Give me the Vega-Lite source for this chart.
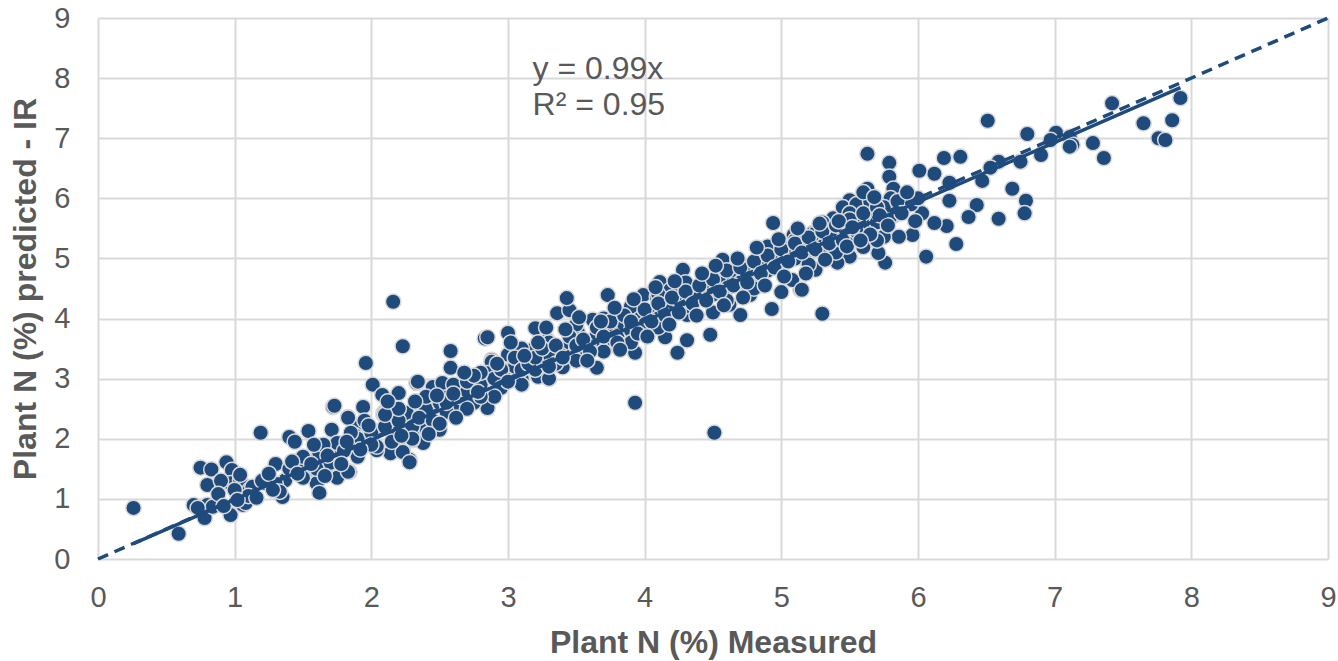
{
  "$schema": "https://vega.github.io/schema/vega-lite/v6.json",
  "width": 1230,
  "height": 541,
  "autosize": {"type": "none"},
  "padding": {"left": 98, "top": 18, "right": 10, "bottom": 102},
  "background": "white",
  "config": {
    "view": {"stroke": null},
    "font": "Liberation Sans",
    "axis": {
      "grid": true, "gridColor": "#d9d9d9", "gridWidth": 2,
      "domain": false, "ticks": false, "labelFlush": false, "labelOverlap": false,
      "labelColor": "#595959", "labelFont": "Liberation Sans", "labelFontSize": 29,
      "titleColor": "#595959", "titleFont": "Liberation Sans", "titleFontSize": 32, "titleFontWeight": "bold"
    }
  },
  "datasets": {
    "pts": [
      {"x":0.26,"y":0.85},{"x":0.59,"y":0.42},{"x":0.70,"y":0.90},{"x":0.80,"y":0.90},{"x":0.78,"y":0.68},{"x":0.84,"y":0.87},
      {"x":0.75,"y":1.52},{"x":0.83,"y":1.49},{"x":0.94,"y":1.61},{"x":0.98,"y":1.48},{"x":0.80,"y":1.23},{"x":0.97,"y":0.73},
      {"x":1.06,"y":0.90},{"x":1.19,"y":2.10},{"x":0.97,"y":1.26},{"x":1.04,"y":1.31},{"x":1.11,"y":1.15},{"x":1.13,"y":1.20},
      {"x":1.30,"y":1.58},{"x":1.23,"y":1.26},{"x":1.35,"y":1.03},{"x":1.37,"y":1.31},{"x":1.40,"y":2.03},{"x":1.44,"y":1.95},
      {"x":1.54,"y":2.13},{"x":1.48,"y":1.65},{"x":1.61,"y":1.70},{"x":1.53,"y":1.48},{"x":1.60,"y":1.26},{"x":1.72,"y":2.53},
      {"x":1.75,"y":1.76},{"x":1.84,"y":1.45},{"x":1.75,"y":1.35},{"x":1.71,"y":2.15},{"x":1.83,"y":2.36},{"x":1.94,"y":2.53},
      {"x":2.09,"y":2.43},{"x":2.20,"y":2.76},{"x":2.28,"y":1.65},{"x":2.23,"y":1.81},{"x":2.14,"y":1.76},{"x":2.04,"y":1.81},
      {"x":1.99,"y":2.06},{"x":1.88,"y":2.20},{"x":2.41,"y":2.43},{"x":2.33,"y":2.93},{"x":2.45,"y":2.86},{"x":2.58,"y":2.76},
      {"x":2.65,"y":2.53},{"x":2.85,"y":2.51},{"x":2.50,"y":2.15},{"x":2.38,"y":1.93},{"x":2.30,"y":1.98},{"x":1.04,"y":1.40},
      {"x":1.08,"y":0.93},{"x":1.62,"y":1.10},{"x":1.83,"y":1.45},{"x":1.67,"y":1.53},{"x":1.62,"y":1.76},{"x":1.49,"y":1.65},
      {"x":1.75,"y":1.93},{"x":1.88,"y":2.06},{"x":2.04,"y":1.87},{"x":2.16,"y":2.15},{"x":2.23,"y":1.78},{"x":2.30,"y":2.11},
      {"x":2.40,"y":2.18},{"x":2.49,"y":2.26},{"x":2.28,"y":1.61},{"x":1.73,"y":2.55},{"x":1.83,"y":2.35},{"x":2.09,"y":2.40},
      {"x":2.26,"y":2.43},{"x":2.43,"y":2.43},{"x":2.01,"y":2.90},{"x":2.08,"y":2.73},{"x":2.34,"y":2.95},{"x":2.52,"y":2.93},
      {"x":2.63,"y":2.86},{"x":2.16,"y":4.28},{"x":2.23,"y":3.54},{"x":1.96,"y":3.26},{"x":2.58,"y":3.46},{"x":2.58,"y":3.18},
      {"x":2.83,"y":3.67},{"x":2.88,"y":3.31},{"x":2.85,"y":3.03},{"x":3.00,"y":3.76},{"x":2.85,"y":3.69},{"x":2.88,"y":3.28},
      {"x":2.85,"y":3.09},{"x":3.04,"y":2.98},{"x":3.04,"y":3.31},{"x":3.18,"y":3.48},{"x":3.22,"y":3.03},{"x":3.20,"y":3.84},
      {"x":3.29,"y":3.64},{"x":3.37,"y":3.39},{"x":3.40,"y":3.19},{"x":3.36,"y":4.09},{"x":3.45,"y":4.14},{"x":3.43,"y":4.34},
      {"x":3.51,"y":3.78},{"x":3.62,"y":3.98},{"x":3.76,"y":3.56},{"x":3.65,"y":3.18},{"x":3.73,"y":4.39},{"x":3.80,"y":3.93},
      {"x":3.87,"y":3.64},{"x":3.93,"y":2.60},{"x":3.93,"y":3.43},{"x":3.96,"y":4.11},{"x":3.99,"y":4.39},{"x":4.09,"y":4.36},
      {"x":4.11,"y":4.61},{"x":4.19,"y":4.48},{"x":4.32,"y":4.36},{"x":4.15,"y":3.69},{"x":4.24,"y":3.43},{"x":4.31,"y":3.64},
      {"x":4.31,"y":4.06},{"x":4.48,"y":3.73},{"x":4.28,"y":4.81},{"x":4.46,"y":4.73},{"x":4.57,"y":4.98},{"x":4.61,"y":4.69},
      {"x":4.70,"y":4.06},{"x":4.62,"y":4.23},{"x":4.77,"y":4.39},{"x":4.93,"y":4.16},{"x":5.00,"y":4.44},{"x":5.14,"y":4.48},
      {"x":5.08,"y":4.64},{"x":5.15,"y":5.01},{"x":4.92,"y":5.06},{"x":5.23,"y":5.42},{"x":5.09,"y":5.39},{"x":4.94,"y":5.59},
      {"x":4.51,"y":2.10},{"x":5.30,"y":4.08},
      {"x":6.51,"y":7.29},{"x":6.80,"y":7.07},{"x":7.01,"y":7.09},{"x":7.11,"y":7.02},{"x":7.28,"y":6.92},{"x":6.90,"y":6.72},
      {"x":6.75,"y":6.61},{"x":6.59,"y":6.61},{"x":6.53,"y":6.51},{"x":6.69,"y":6.16},{"x":6.79,"y":5.96},{"x":6.78,"y":5.75},
      {"x":6.59,"y":5.66},{"x":6.43,"y":5.89},{"x":6.37,"y":5.69},{"x":6.47,"y":6.29},{"x":6.31,"y":6.69},{"x":6.19,"y":6.67},
      {"x":6.12,"y":6.41},{"x":6.01,"y":6.46},{"x":6.23,"y":6.26},{"x":6.23,"y":5.96},{"x":6.28,"y":5.24},{"x":6.06,"y":5.03},
      {"x":6.21,"y":5.54},{"x":6.12,"y":5.59},{"x":6.03,"y":5.75},{"x":5.82,"y":5.71},{"x":5.79,"y":6.59},{"x":5.63,"y":6.74},
      {"x":5.79,"y":6.36},{"x":5.63,"y":6.16},{"x":5.82,"y":6.16},{"x":5.92,"y":6.01},{"x":5.96,"y":5.39},{"x":5.76,"y":4.93},
      {"x":5.71,"y":5.09},{"x":5.86,"y":5.36},{"x":5.75,"y":5.36},{"x":5.60,"y":5.19},{"x":5.50,"y":5.03},{"x":5.41,"y":4.93},
      {"x":5.25,"y":4.81},{"x":5.15,"y":4.48},{"x":5.57,"y":5.67},{"x":5.45,"y":5.77},{"x":5.38,"y":5.67},{"x":5.25,"y":5.42},
      {"x":5.17,"y":5.36},{"x":5.50,"y":5.97},{"x":5.63,"y":5.54},{"x":5.38,"y":5.19},{"x":5.17,"y":5.03},
      {"x":7.42,"y":7.58},{"x":7.65,"y":7.25},{"x":7.76,"y":7.00},{"x":7.81,"y":6.97},{"x":7.86,"y":7.30},{"x":7.92,"y":7.67},
      {"x":7.36,"y":6.67},{"x":7.13,"y":6.89},{"x":7.11,"y":6.86},{"x":6.97,"y":6.97},
      {"x":1.9,"y":2.0},{"x":2.0,"y":2.1},{"x":2.1,"y":2.2},{"x":2.2,"y":2.3},{"x":2.3,"y":2.2},{"x":2.4,"y":2.5},{"x":2.5,"y":2.6},
      {"x":2.6,"y":2.5},{"x":2.15,"y":1.95},{"x":2.35,"y":2.35},{"x":2.45,"y":2.3},{"x":2.55,"y":2.45},{"x":2.65,"y":2.7},{"x":2.7,"y":2.8},
      {"x":2.75,"y":2.6},{"x":2.8,"y":2.9},{"x":2.9,"y":3.0},{"x":2.95,"y":2.85},{"x":3.0,"y":3.1},{"x":3.05,"y":3.2},{"x":3.1,"y":3.0},
      {"x":3.15,"y":3.3},{"x":3.2,"y":3.15},{"x":3.25,"y":3.3},{"x":3.3,"y":3.4},{"x":3.35,"y":3.25},{"x":3.4,"y":3.45},{"x":3.45,"y":3.6},
      {"x":3.5,"y":3.5},{"x":3.55,"y":3.4},{"x":3.6,"y":3.6},{"x":3.65,"y":3.75},{"x":3.7,"y":3.55},{"x":3.75,"y":3.8},{"x":3.8,"y":3.7},
      {"x":3.85,"y":3.9},{"x":3.9,"y":3.8},{"x":3.95,"y":4.0},{"x":4.0,"y":3.9},{"x":4.05,"y":4.1},{"x":4.1,"y":4.0},{"x":4.15,"y":4.2},
      {"x":4.2,"y":4.15},{"x":4.25,"y":4.3},{"x":4.3,"y":4.2},{"x":4.35,"y":4.4},{"x":4.4,"y":4.35},{"x":4.45,"y":4.5},{"x":4.5,"y":4.4},
      {"x":4.55,"y":4.6},{"x":4.6,"y":4.5},{"x":4.65,"y":4.7},{"x":4.7,"y":4.6},{"x":4.75,"y":4.8},{"x":4.8,"y":4.7},{"x":4.85,"y":4.9},
      {"x":4.9,"y":4.8},{"x":4.95,"y":5.0},{"x":5.0,"y":4.9},{"x":5.05,"y":5.1},{"x":5.1,"y":5.0},{"x":5.15,"y":5.2},{"x":5.2,"y":5.1},
      {"x":5.25,"y":5.3},{"x":5.3,"y":5.2},{"x":5.35,"y":5.4},{"x":5.4,"y":5.35},{"x":5.45,"y":5.5},{"x":5.5,"y":5.4},{"x":5.55,"y":5.6},
      {"x":5.6,"y":5.5},{"x":5.65,"y":5.7},{"x":5.7,"y":5.6},{"x":5.75,"y":5.8},{"x":5.8,"y":5.7},{"x":5.85,"y":5.9},{"x":5.9,"y":5.85},
      {"x":5.95,"y":5.9},{"x":6.0,"y":6.0},
      {"x":3.3,"y":3.0},{"x":3.5,"y":3.3},{"x":3.7,"y":3.45},{"x":3.9,"y":3.6},{"x":4.1,"y":3.85},{"x":4.3,"y":4.5},{"x":4.5,"y":4.1},
      {"x":4.7,"y":4.9},{"x":4.9,"y":5.2},{"x":5.1,"y":5.3},{"x":5.3,"y":5.6},{"x":5.5,"y":5.8},{"x":5.7,"y":5.3},{"x":5.9,"y":6.0},
      {"x":4.6,"y":4.3},{"x":4.8,"y":4.5},{"x":5.0,"y":5.2},{"x":5.2,"y":4.9},{"x":5.4,"y":5.1},{"x":5.6,"y":5.8},{"x":5.8,"y":6.0},
      {"x":3.1,"y":3.5},{"x":3.3,"y":3.6},{"x":3.5,"y":3.9},{"x":3.7,"y":4.0},{"x":3.9,"y":4.2},{"x":4.1,"y":4.4},{"x":4.3,"y":4.6},
      {"x":2.2,"y":2.5},{"x":2.4,"y":2.7},{"x":2.6,"y":2.9},{"x":2.8,"y":3.1},{"x":3.0,"y":3.4},{"x":2.3,"y":2.0},{"x":2.5,"y":2.25},
      {"x":2.7,"y":2.5},{"x":2.9,"y":2.7},{"x":3.1,"y":2.9},{"x":1.9,"y":1.7},{"x":2.0,"y":1.9},{"x":2.1,"y":2.4},{"x":1.7,"y":1.6},
      {"x":1.6,"y":1.5},{"x":1.5,"y":1.7},{"x":1.4,"y":1.5},{"x":1.3,"y":1.25},{"x":1.2,"y":1.3},{"x":1.1,"y":1.05},{"x":1.0,"y":1.15},
      {"x":0.9,"y":1.3},{"x":1.5,"y":1.35},{"x":1.65,"y":1.9},{"x":1.8,"y":1.8},{"x":1.85,"y":2.1},{"x":1.95,"y":2.3},
      {"x":5.45,"y":5.85},{"x":5.55,"y":5.9},{"x":5.65,"y":5.95},{"x":5.75,"y":5.85},{"x":5.85,"y":5.95},{"x":5.6,"y":6.1},{"x":5.5,"y":5.75},
      {"x":2.55,"y":2.6},{"x":2.6,"y":2.75},{"x":2.7,"y":2.95},{"x":2.75,"y":3.05},{"x":2.8,"y":2.7},{"x":2.95,"y":3.15},{"x":3.0,"y":2.95},
      {"x":3.05,"y":3.35},{"x":3.1,"y":3.15},{"x":3.15,"y":3.25},{"x":3.2,"y":3.35},{"x":3.25,"y":3.5},{"x":3.3,"y":3.2},{"x":3.35,"y":3.55},
      {"x":3.4,"y":3.35},{"x":3.45,"y":3.7},{"x":3.5,"y":3.55},{"x":3.55,"y":3.65},{"x":3.6,"y":3.45},{"x":3.65,"y":3.85},{"x":3.7,"y":3.7},
      {"x":3.75,"y":3.95},{"x":3.8,"y":3.6},{"x":3.85,"y":4.05},{"x":3.9,"y":3.95},{"x":3.95,"y":3.75},{"x":4.0,"y":4.15},{"x":4.05,"y":3.95},
      {"x":4.1,"y":4.25},{"x":4.15,"y":4.05},{"x":4.2,"y":4.35},{"x":4.25,"y":4.1},{"x":4.3,"y":4.45},{"x":4.35,"y":4.25},{"x":4.4,"y":4.55},
      {"x":4.45,"y":4.3},{"x":4.5,"y":4.65},{"x":4.55,"y":4.45},{"x":4.6,"y":4.8},{"x":4.65,"y":4.55},{"x":4.7,"y":4.85},{"x":4.75,"y":4.6},
      {"x":4.8,"y":4.95},{"x":4.85,"y":4.75},{"x":4.9,"y":5.05},{"x":4.95,"y":4.85},{"x":5.0,"y":5.15},{"x":5.05,"y":4.95},{"x":5.1,"y":5.25},
      {"x":5.15,"y":5.1},{"x":5.2,"y":5.35},{"x":5.25,"y":5.15},{"x":5.3,"y":5.45},{"x":5.35,"y":5.25},{"x":5.4,"y":5.55},{"x":5.45,"y":5.3},
      {"x":5.5,"y":5.65},{"x":5.55,"y":5.45},{"x":5.6,"y":5.75},{"x":5.65,"y":5.4},{"x":5.7,"y":5.85},
      {"x":2.12,"y":2.62},{"x":2.22,"y":2.05},{"x":2.32,"y":2.62},{"x":2.42,"y":2.08},{"x":2.48,"y":2.72},{"x":2.62,"y":2.35},
      {"x":2.68,"y":3.1},{"x":2.78,"y":2.78},{"x":2.92,"y":3.25},{"x":3.02,"y":3.6},{"x":3.12,"y":3.38},{"x":3.22,"y":3.6},
      {"x":3.28,"y":3.85},{"x":3.42,"y":3.82},{"x":3.52,"y":4.02},{"x":3.58,"y":3.3},{"x":3.68,"y":3.95},{"x":3.78,"y":4.18},
      {"x":3.82,"y":3.48},{"x":3.92,"y":4.32},{"x":4.02,"y":3.7},{"x":4.08,"y":4.52},{"x":4.18,"y":3.9},{"x":4.22,"y":4.62},
      {"x":4.38,"y":4.05},{"x":4.42,"y":4.75},{"x":4.52,"y":4.88},{"x":4.58,"y":4.22},{"x":4.68,"y":5.0},{"x":4.72,"y":4.35},
      {"x":4.82,"y":5.18},{"x":4.88,"y":4.55},{"x":4.98,"y":5.32},{"x":5.02,"y":4.7},{"x":5.12,"y":5.5},{"x":5.18,"y":4.75},
      {"x":5.28,"y":5.58},{"x":5.32,"y":4.98},{"x":5.42,"y":5.62},{"x":5.48,"y":5.2},{"x":5.52,"y":5.52},{"x":5.58,"y":5.3},
      {"x":5.68,"y":6.02},{"x":5.72,"y":5.72},{"x":5.78,"y":5.55},{"x":5.88,"y":5.75},{"x":5.92,"y":6.1},{"x":5.98,"y":5.62},
      {"x":1.25,"y":1.42},{"x":1.33,"y":1.12},{"x":1.42,"y":1.62},{"x":1.46,"y":1.42},{"x":1.56,"y":1.58},{"x":1.58,"y":1.9},
      {"x":1.66,"y":1.38},{"x":1.68,"y":1.72},{"x":1.78,"y":1.58},{"x":1.82,"y":1.95},{"x":1.92,"y":1.82},{"x":1.98,"y":2.22},
      {"x":0.88,"y":1.08},{"x":0.92,"y":0.88},{"x":1.02,"y":0.98},{"x":1.16,"y":1.02},{"x":1.28,"y":1.15},{"x":0.73,"y":0.85}
    ],
    "fit": [{"x":0.26,"y":0.257},{"x":7.92,"y":7.84}],
    "oneToOne": [{"x":0,"y":0},{"x":9,"y":9}],
    "labels": [{"label":"y = 0.99x","x":3.18,"y":7.99},{"label":"R² = 0.95","x":3.18,"y":7.39}]
  },
  "layer": [
    {
      "data": {"name": "pts"},
      "mark": {"type": "point", "filled": true, "shape": "circle", "size": 240, "fill": "#1f4a7c", "stroke": "#d9d9d9", "strokeWidth": 1.5, "opacity": 1},
      "encoding": {
        "x": {"field": "x", "type": "quantitative", "scale": {"domain": [0, 9], "nice": false},
              "axis": {"values": [0,1,2,3,4,5,6,7,8,9], "format": "d", "title": "Plant N (%) Measured", "labelPadding": 24,
                       "titleX": 615, "titleY": 93, "titleBaseline": "alphabetic"}},
        "y": {"field": "y", "type": "quantitative", "scale": {"domain": [0, 9], "nice": false},
              "axis": {"values": [0,1,2,3,4,5,6,7,8,9], "format": "d", "title": "Plant N (%) predicted - IR", "labelPadding": 28,
                       "titleX": -63, "titleY": 270.5, "titleBaseline": "alphabetic"}}
      }
    },
    {
      "data": {"name": "fit"},
      "mark": {"type": "line", "color": "#1f4a7c", "strokeWidth": 3.5},
      "encoding": {"x": {"field": "x", "type": "quantitative"}, "y": {"field": "y", "type": "quantitative"}}
    },
    {
      "data": {"name": "oneToOne"},
      "mark": {"type": "line", "color": "#1f4a7c", "strokeWidth": 3.5, "strokeDash": [11, 7]},
      "encoding": {"x": {"field": "x", "type": "quantitative"}, "y": {"field": "y", "type": "quantitative"}}
    },
    {
      "data": {"name": "labels"},
      "mark": {"type": "text", "align": "left", "baseline": "alphabetic", "fontSize": 32, "font": "Liberation Sans", "color": "#595959"},
      "encoding": {"x": {"field": "x", "type": "quantitative"}, "y": {"field": "y", "type": "quantitative"}, "text": {"field": "label"}}
    }
  ]
}
